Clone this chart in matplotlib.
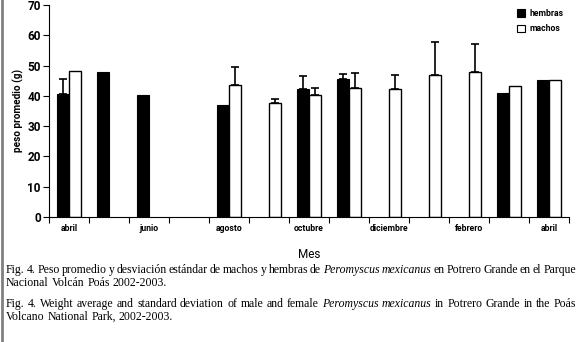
import numpy as np
import matplotlib
matplotlib.use("Agg")
import matplotlib.pyplot as plt
from matplotlib.lines import Line2D
from matplotlib.patches import Rectangle

plt.rcParams['font.family'] = ['Roboto', 'DejaVu Sans']

months = ['abril', 'mayo', 'junio', 'julio', 'agosto', 'septiembre', 'octubre',
          'noviembre', 'diciembre', 'enero', 'febrero', 'marzo', 'abril']
nan = np.nan
hembras = [40.5, 47.8, 40.3, nan, 37.0, nan, 42.2, 45.6, nan, nan, nan, 40.8, 45.1]
hembras_sd = [5.1, 0, 0, nan, 0, nan, 4.3, 1.5, nan, nan, nan, 0, 0]
machos = [48.2, nan, nan, nan, 43.7, 37.5, 40.3, 42.6, 42.2, 47.0, 47.8, 43.4, 45.1]
machos_sd = [0, nan, nan, nan, 5.9, 1.3, 2.4, 5.0, 4.8, 10.8, 9.2, 0, 0]
yticks = [0, 10, 20, 30, 40, 50, 60, 70]

fig = plt.figure(figsize=(5.8, 3.42), dpi=100)
ax = fig.add_axes([49/580, 1-217/342, 520/580, 212/342])

x = np.arange(len(months))
w = 0.3
h = np.array(hembras, dtype=float)
hs = np.array(hembras_sd, dtype=float)
m = np.array(machos, dtype=float)
ms = np.array(machos_sd, dtype=float)

hv = ~np.isnan(h)
mv = ~np.isnan(m)
ax.bar(x[hv] - w/2, h[hv], width=w, color='black', edgecolor='black', linewidth=0.8, zorder=2)
ax.bar(x[mv] + w/2, m[mv], width=w, color='white', edgecolor='black', linewidth=1.0, zorder=2)

sel = np.nan_to_num(hs) > 0
ax.errorbar(x[sel] - w/2, h[sel], yerr=[np.zeros(sel.sum()), hs[sel]], fmt='none',
            ecolor='black', elinewidth=1.2, capsize=3, capthick=1.2, zorder=3)
sel = np.nan_to_num(ms) > 0
ax.errorbar(x[sel] + w/2, m[sel], yerr=[np.zeros(sel.sum()), ms[sel]], fmt='none',
            ecolor='black', elinewidth=1.2, capsize=3, capthick=1.2, zorder=3)

ax.set_xlim(-0.5, len(months) - 0.5)
ax.set_ylim(0, 70)
ax.set_yticks(yticks)
ax.set_yticklabels([str(v) for v in yticks], fontsize=8.5, fontweight='bold')
ax.set_xticks(x[::2])
ax.set_xticklabels(months[::2], fontsize=6.2, fontweight='bold')
ax.set_xticks(np.arange(len(months) + 1) - 0.5, minor=True)
ax.tick_params(axis='x', which='major', length=0, pad=5)
ax.tick_params(axis='x', which='minor', length=4, width=0.8, direction='out')
ax.tick_params(axis='y', length=4, width=0.8, direction='out', pad=2)
for s in ['top', 'right']:
    ax.spines[s].set_visible(False)
ax.spines['left'].set_linewidth(0.8)
ax.spines['bottom'].set_linewidth(0.8)
ax.set_ylabel('peso promedio (g)', fontsize=7.2, fontweight='bold', labelpad=2)
ax.set_xlabel('Mes', fontsize=8.5, labelpad=11)

# legend
handles = [Rectangle((0, 0), 1, 1, facecolor='black', edgecolor='black', linewidth=0.8),
           Rectangle((0, 0), 1, 1, facecolor='white', edgecolor='black', linewidth=0.8)]
leg = fig.legend(handles, ['hembras', 'machos'], loc='upper left',
                 bbox_to_anchor=(511/580, 1 - 3/342), frameon=False,
                 prop={'size': 6.2, 'weight': 'bold'}, handlelength=0.9, handleheight=0.9,
                 handletextpad=0.6, labelspacing=0.7, borderpad=0.2)

# caption
serif = 'Liberation Serif'
fs = 8.5
fig.canvas.draw()
renderer = fig.canvas.get_renderer()


def rich_line(xpx, ypx, parts, right=None):
    words = []
    for txt, style in parts:
        for wd in txt.split():
            words.append((wd, style))
    items = []
    for wd, style in words:
        t = fig.text(0, 1 - ypx / 342, wd, family=serif, fontsize=fs,
                     style=style, va='center', ha='left')
        items.append((t, t.get_window_extent(renderer=renderer).width))
    total = sum(wd for _, wd in items)
    if right is not None and len(items) > 1:
        gap = (right - xpx - total) / (len(items) - 1)
    else:
        sp = fig.text(0, 0, 'a a', family=serif, fontsize=fs)
        sp2 = fig.text(0, 0, 'aa', family=serif, fontsize=fs)
        gap = sp.get_window_extent(renderer=renderer).width - sp2.get_window_extent(renderer=renderer).width
        sp.remove()
        sp2.remove()
    xcur = xpx
    for t, wd in items:
        t.set_x(xcur / 580)
        xcur += wd + gap


rich_line(6, 270, [('Fig. 4. Peso promedio y desviación estándar de machos y hembras de', 'normal'),
                   ('Peromyscus mexicanus', 'italic'),
                   ('en Potrero Grande en el Parque', 'normal')], right=576)
rich_line(6, 283, [('Nacional Volcán Poás 2002-2003.', 'normal')])
rich_line(6, 304, [('Fig. 4. Weight average and standard deviation of male and female', 'normal'),
                   ('Peromyscus mexicanus', 'italic'),
                   ('in Potrero Grande in the Poás', 'normal')], right=576)
rich_line(6, 317, [('Volcano National Park, 2002-2003.', 'normal')])

fig.add_artist(Line2D([1.5/580, 1.5/580], [0, 1], transform=fig.transFigure,
                      color='#808080', linewidth=2))

fig.savefig('out.png', dpi=100)
